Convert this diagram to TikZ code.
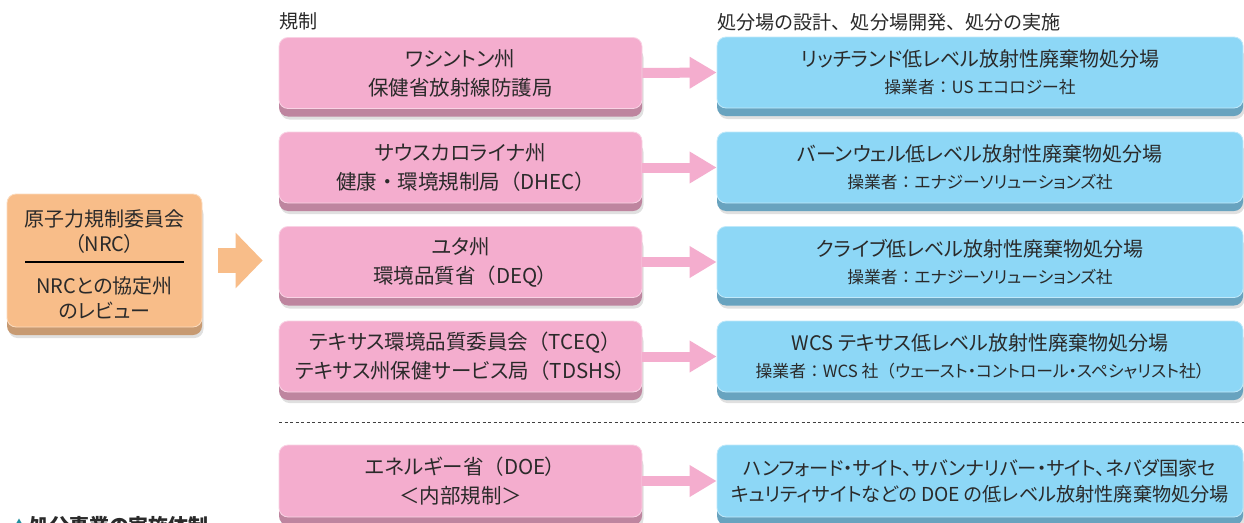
\documentclass[tikz,border=0pt]{standalone}
\usepackage{fontspec}
\newfontfamily\jp{Noto Sans CJK JP}[RawFeature=+palt]
\newfontfamily\jpn{Noto Sans CJK JP}
\usetikzlibrary{shadows,arrows.meta}
\definecolor{pinkfill}{HTML}{F4ADCE}
\definecolor{pinkdark}{HTML}{BE859F}
\definecolor{bluefill}{HTML}{8DD7F6}
\definecolor{bluedark}{HTML}{68A3BF}
\definecolor{orangefill}{HTML}{F8BD89}
\definecolor{orangedark}{HTML}{C79A72}
\definecolor{txt}{HTML}{2A2A2A}
\definecolor{capteal}{HTML}{1F8E9E}
\newcommand{\mainsz}{\fontsize{20.5}{29}\selectfont}
\newcommand{\bluesz}{\fontsize{20}{27}\selectfont}
\newcommand{\subsz}{\fontsize{16.8}{27}\selectfont}
\newcommand{\lp}{{\jpn （}}
\newcommand{\nd}{{\jpn ・}}
\newcommand{\cln}{{\jpn ：}}
\tikzset{
  boxbase/.style={rounded corners=9pt, inner sep=0pt, align=center, text=txt,
    minimum height=71pt},
  pinkbox/.style={boxbase, fill=pinkfill, draw=pinkfill!55!white, line width=0.8pt,
    minimum width=363pt, font=\jp\mainsz,
    drop shadow={shadow xshift=1.5pt, shadow yshift=-11pt, opacity=0.12, fill=black},
    general shadow={shadow yshift=-8pt, fill=pinkdark}},
  bluebox/.style={boxbase, fill=bluefill, draw=bluefill!55!white, line width=0.8pt,
    minimum width=526pt, font=\jp\bluesz,
    drop shadow={shadow xshift=1.5pt, shadow yshift=-11pt, opacity=0.12, fill=black},
    general shadow={shadow yshift=-8pt, fill=bluedark}},
  orangebox/.style={boxbase, fill=orangefill, draw=orangefill!55!white, line width=0.8pt,
    minimum width=195pt, minimum height=133pt,
    drop shadow={shadow xshift=1.5pt, shadow yshift=-11pt, opacity=0.12, fill=black},
    general shadow={shadow yshift=-8pt, fill=orangedark}},
  pinkarrow/.style={draw=pinkfill, line width=10pt, -{Triangle[length=27pt,width=30pt]}},
  bigarrow/.style={draw=orangefill, line width=25pt, -{Triangle[length=27pt,width=54pt]}},
  headtxt/.style={font=\jpn\fontsize{19.1}{22}\selectfont, text=txt, inner sep=0pt, anchor=west},
  lefttxt/.style={font=\jp\fontsize{20}{25}\selectfont, text=txt, inner sep=0pt, align=center},
}
\begin{document}
\begin{tikzpicture}[x=1pt,y=-1pt]
\useasboundingbox (0,0) rectangle (1244,522);
\clip (0,0) rectangle (1244,522);
\fill[white] (0,0) rectangle (1244,522);

% headers
\node[headtxt] (h1) at (279,21) {規制};
\node[headtxt] (h2) at (717,22) {処分場の設計、処分場開発、処分の実施};

% left box
\node[orangebox] (L) at (104.5,260.5) {};
\node[lefttxt] (Lt) at (104.5,231.5) {原子力規制委員会\\（NRC）};
\node[lefttxt] (Lb) at (104.5,297.5) {NRCとの協定州\\のレビュー};
\coordinate (r1) at (25,262);
\coordinate (r2) at (184,262);
\draw[line width=1.4pt, black] (r1) -- (r2);

% pink boxes
\node[pinkbox] (p1) at (460.5,73) {ワシントン州\\保健省放射線防護局};
\node[pinkbox] (p2) at (460.5,167.5) {サウスカロライナ州\\健康\nd 環境規制局\lp DHEC）};
\node[pinkbox] (p3) at (460.5,262) {ユタ州\\環境品質省\lp DEQ）};
\node[pinkbox] (p4) at (460.5,356.5) {テキサス環境品質委員会\lp TCEQ）\\テキサス州保健サービス局\lp TDSHS）};
\node[pinkbox, minimum height=72pt] (p5) at (460.5,481) {エネルギー省\lp DOE）\\＜内部規制＞};

% blue boxes
\node[bluebox] (b1) at (980,72.5) {リッチランド低レベル放射性廃棄物処分場\\{\subsz 操業者\cln US エコロジー社}};
\node[bluebox] (b2) at (980,167.5) {バーンウェル低レベル放射性廃棄物処分場\\{\subsz 操業者\cln エナジーソリューションズ社}};
\node[bluebox] (b3) at (980,262) {クライブ低レベル放射性廃棄物処分場\\{\subsz 操業者\cln エナジーソリューションズ社}};
\node[bluebox] (b4) at (980,356.5) {WCS テキサス低レベル放射性廃棄物処分場\\{\subsz 操業者\cln WCS 社\lp ウェースト・コントロール・スペシャリスト社）}};
\node[bluebox, minimum height=72pt, font=\jp\fontsize{19.2}{26}\selectfont] (b5) at (980,481) {ハンフォード・サイト、サバンナリバー・サイト、ネバダ国家セ\\キュリティサイトなどの DOE の低レベル放射性廃棄物処分場};

% arrows
\draw[bigarrow] ([xshift=16pt]L.east) -- ([xshift=-16pt]L.east -| p3.west);
\foreach \i in {1,...,5}{
  \draw[pinkarrow] (p\i.east) -- (b\i.west);
}

% dashed divider
\coordinate (d1) at (279,422.5);
\coordinate (d2) at (1244,422.5);
\draw[line width=0.8pt, color=black!75, dash pattern=on 3pt off 2.5pt] (d1) -- (d2);

% caption (cut off at the lower edge, as in the reference)
\node[anchor=base west, inner sep=0pt, text=txt, font=\jp\bfseries\fontsize{20}{24}\selectfont] (cap) at (12,533)
  {\raisebox{3pt}{\fontsize{14}{14}\selectfont\color{capteal}▲}\hspace{3pt}処分事業の実施体制};
\end{tikzpicture}
\end{document}
